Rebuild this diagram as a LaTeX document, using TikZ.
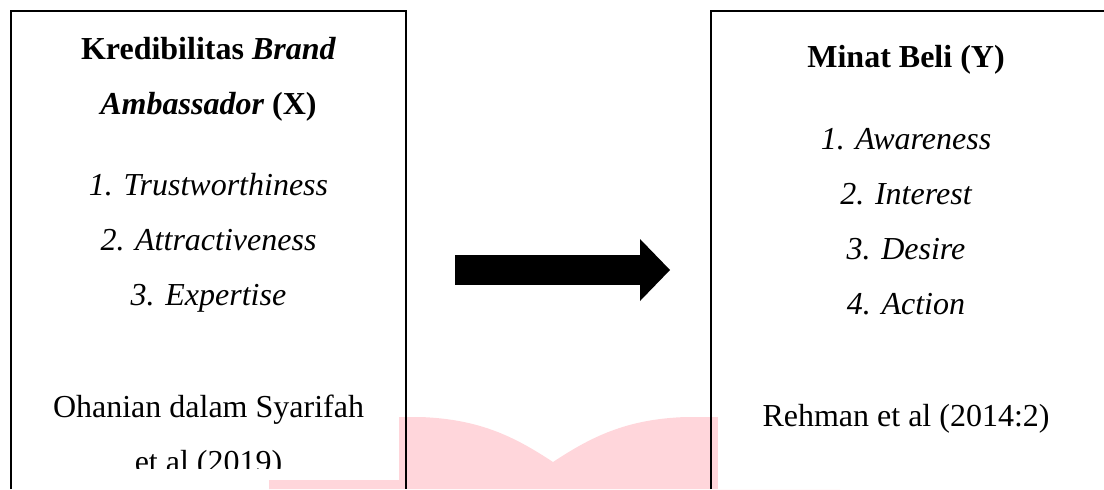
\documentclass[tikz,border=0pt]{standalone}
\usepackage{fontspec}
\setmainfont{Liberation Serif}
\usepackage{xcolor}
\usetikzlibrary{arrows.meta, positioning}
\definecolor{wmpink}{RGB}{255,214,219}

\begin{document}
\begin{tikzpicture}[x=0.375pt, y=-0.375pt, line width=0.75pt,
    title/.style={font=\fontsize{12}{14}\selectfont\bfseries, anchor=base},
    item/.style={font=\fontsize{12}{14}\selectfont\itshape, anchor=base},
    source/.style={font=\fontsize{12}{14}\selectfont, anchor=base}]
\useasboundingbox (0,0) rectangle (1104,489);
% Watermark behind the boxes
\fill[wmpink] (269,489) -- (269,417) -- (420,417)
    .. controls (480,419) and (515,437) .. (553,462)
    .. controls (591,437) and (626,419) .. (686,417)
    -- (840,417) -- (840,489) -- cycle;
\fill[white] (11,11) rectangle (399,480);
\fill[white] (718,11) rectangle (1104,489);
% Left box - variable X
\draw (11,489) -- (11,11) -- (406,11) -- (406,489);
\node[title] (xtitleA) at (208.5,59) {Kredibilitas \textit{Brand}};
\node[title] (xtitleB) at (208.5,114) {\textit{Ambassador} (X)};
\foreach \t [count=\i] in {Trustworthiness, Attractiveness, Expertise} {
    \node[item] (x\i) at (208.5,{195+55*(\i-1)}) {\i. \t};
}
\node[source] (xsrcA) at (208.5,417) {Ohanian dalam Syarifah};
\begin{scope}
\clip (11,11) rectangle (406,468);
\node[source] (xsrcB) at (208.5,472) {et al (2019)};
\end{scope}
% Right box - variable Y
\draw (711,489) -- (711,11) -- (1104,11);
\node[title] (ytitle) at (906,67) {Minat Beli (Y)};
\foreach \t [count=\i] in {Awareness, Interest, Desire, Action} {
    \node[item] (y\i) at (906,{149+55.3*(\i-1)}) {\i. \t};
}
\node[source] (ysrc) at (906,426) {Rehman et al (2014:2)};
% Block arrow X -> Y
\coordinate (arrS) at (455,270);
\coordinate (arrE) at (670,270);
\draw[line width=11.25pt, -{Triangle[length=11.25pt, width=23.25pt, line width=0pt]}] (arrS) -- (arrE);
\end{tikzpicture}
\end{document}
